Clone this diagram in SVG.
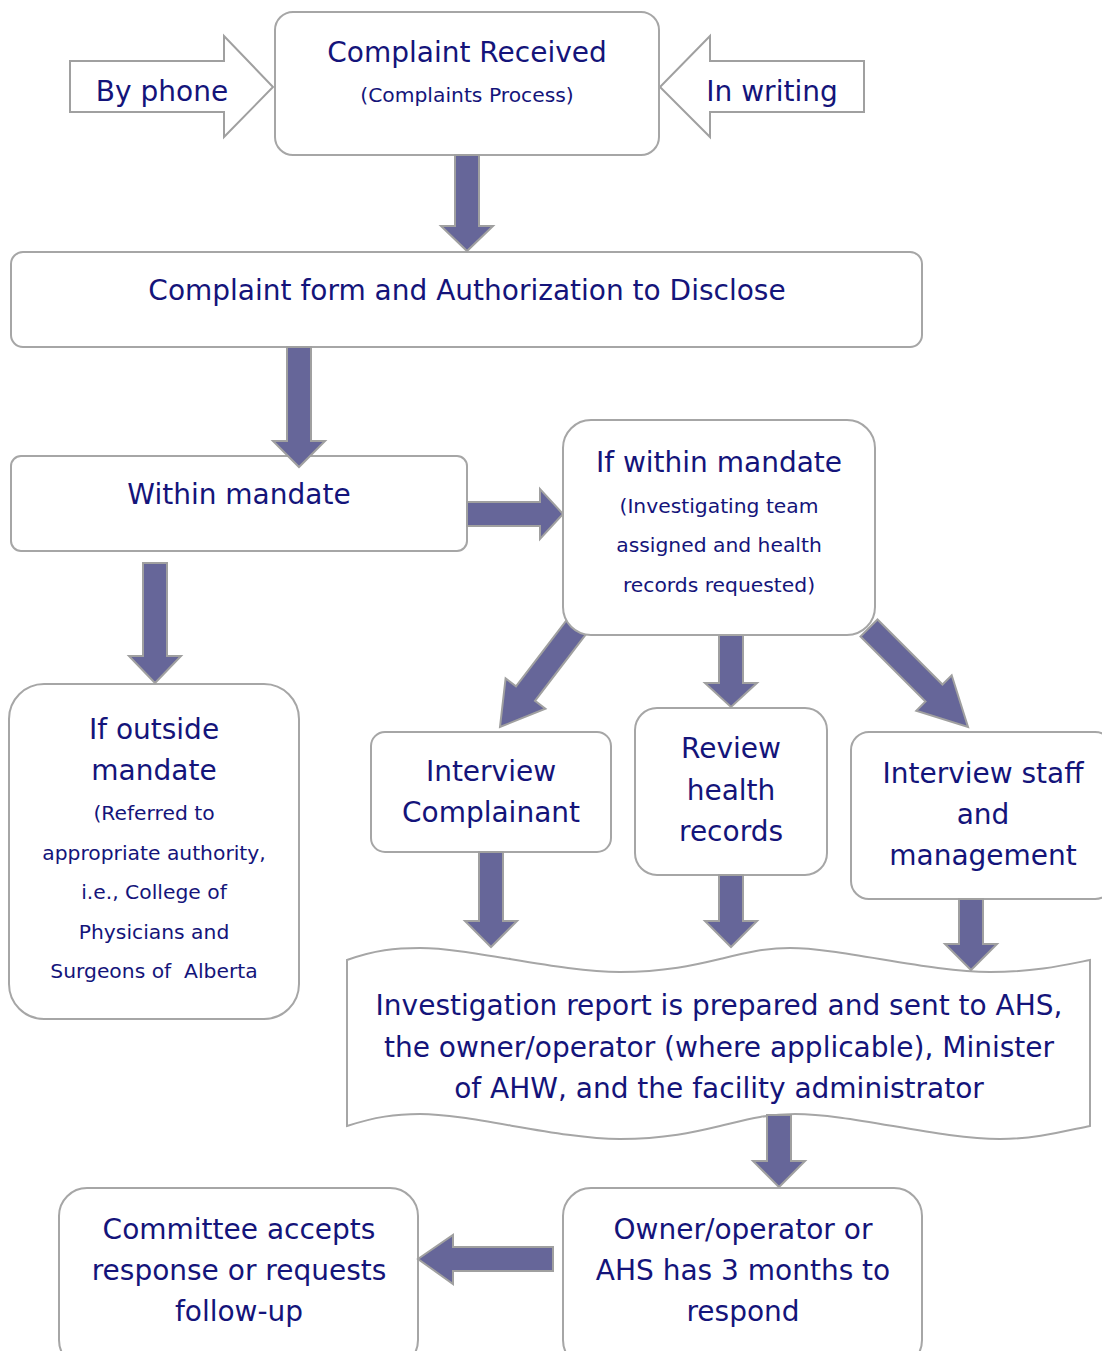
<svg xmlns="http://www.w3.org/2000/svg" width="1102" height="1351" viewBox="0 0 1102 1351">
<style>
.box{fill:#fff;stroke:#a6a6a6;stroke-width:2}
.blk{fill:#666699;stroke:#a0a0a0;stroke-width:2;stroke-linejoin:miter}
.out{fill:#fff;stroke:#a0a0a0;stroke-width:2}
text{font-family:"DejaVu Sans","Liberation Sans",sans-serif;fill:#14147a;text-anchor:middle}
.big{font-size:28px}
.sm{font-size:20.3px}
</style>
<rect width="1102" height="1351" fill="#fff"/>
<g id="by-phone"><polygon class="out" points="70,61 224,61 224,36 273,87 224,137 224,112 70,112"/><text class="big" x="162" y="101">By phone</text></g>
<g id="in-writing"><polygon class="out" points="864,61 710,61 710,36 660,87 710,137 710,112 864,112"/><text class="big" x="772" y="101">In writing</text></g>
<g id="complaint-received"><rect class="box" x="275" y="12" width="384" height="143" rx="18"/><text class="big" x="467" y="62">Complaint Received</text><text class="sm" x="467" y="102">(Complaints Process)</text></g>
<g id="complaint-form"><rect class="box" x="11" y="252" width="911" height="95" rx="12"/><text class="big" x="467" y="300">Complaint form and Authorization to Disclose</text></g>
<g id="within-mandate"><rect class="box" x="11" y="456" width="456" height="95" rx="10"/><text class="big" x="239" y="504">Within mandate</text></g>
<g id="outside-mandate"><rect class="box" x="9" y="684" width="290" height="335" rx="35"/><text class="big" x="154" y="739">If outside</text><text class="big" x="154" y="780">mandate</text><text class="sm" x="154" y="820">(Referred to</text><text class="sm" x="154" y="860">appropriate authority,</text><text class="sm" x="154" y="899">i.e., College of</text><text class="sm" x="154" y="939">Physicians and</text><text class="sm" x="154" y="978">Surgeons of&#160; Alberta</text></g>
<g id="interview-complainant"><rect class="box" x="371" y="732" width="240" height="120" rx="14"/><text class="big" x="491" y="781">Interview</text><text class="big" x="491" y="822">Complainant</text></g>
<g id="review-records"><rect class="box" x="635" y="708" width="192" height="167" rx="22"/><text class="big" x="731" y="758">Review</text><text class="big" x="731" y="800">health</text><text class="big" x="731" y="841">records</text></g>
<g id="interview-staff"><rect class="box" x="851" y="732" width="262" height="167" rx="18"/><text class="big" x="983" y="783">Interview staff</text><text class="big" x="983" y="824">and</text><text class="big" x="983" y="865">management</text></g>
<g id="investigation-report"><path class="box" d="M347,960 C375,950 395,948 420,948 C470,948 560,972 620,972 C665,972 695,965 720,959 C745,953 765,948 790,948 C840,948 930,972 990,972 C1035,972 1065,965 1090,960 L1090,1126 C1065,1131 1035,1139 1000,1139 C940,1139 850,1114 795,1114 C765,1114 745,1120 720,1126 C695,1132 665,1139 620,1139 C560,1139 470,1114 420,1114 C395,1114 375,1117 347,1126 Z"/><text class="big" x="719" y="1015">Investigation report is prepared and sent to AHS,</text><text class="big" x="719" y="1057">the owner/operator (where applicable), Minister</text><text class="big" x="719" y="1098">of AHW, and the facility administrator</text></g>
<g id="owner-operator"><rect class="box" x="563" y="1188" width="359" height="180" rx="28"/><text class="big" x="743" y="1239">Owner/operator or</text><text class="big" x="743" y="1280">AHS has 3 months to</text><text class="big" x="743" y="1321">respond</text></g>
<g id="committee"><rect class="box" x="59" y="1188" width="359" height="180" rx="28"/><text class="big" x="239" y="1239">Committee accepts</text><text class="big" x="239" y="1280">response or requests</text><text class="big" x="239" y="1321">follow-up</text></g>
<g id="connectors">
<polygon class="blk" points="455,155 479,155 479,226 493,226 467,251 441,226 455,226"/>
<polygon class="blk" points="287,347 311,347 311,441 325,441 299,467 273,441 287,441"/>
<polygon class="blk" points="467,502 540,502 540,489 563,514 540,539 540,526 467,526"/>
<polygon class="blk" points="143,563 167,563 167,656 181,656 155,683 129,656 143,656"/>
<polygon class="blk" points="567.6,618.8 516,686.3 505.6,678.4 500,727 545.4,708.8 535,700.9 586.6,633.4"/>
<polygon class="blk" points="719,635 743,635 743,683 757,683 731,707 705,683 719,683"/>
<polygon class="blk" points="860.5,636.5 925.5,701.5 916.3,710.7 968,727 951.7,675.3 942.5,684.5 877.5,619.5"/>
<polygon class="blk" points="479,852 503,852 503,921 517,921 491,947 465,921 479,921"/>
<polygon class="blk" points="719,875 743,875 743,921 757,921 731,947 705,921 719,921"/>
<polygon class="blk" points="959,899 983,899 983,944 997,944 971,970 945,944 959,944"/>
<polygon class="blk" points="767,1115 791,1115 791,1161 805,1161 779,1187 753,1161 767,1161"/>
<polygon class="blk" points="553,1247 553,1271 453,1271 453,1284 418,1259 453,1235 453,1247"/>
</g>
<g id="if-within-mandate"><rect class="box" x="563" y="420" width="312" height="215" rx="28"/><text class="big" x="719" y="472">If within mandate</text><text class="sm" x="719" y="513">(Investigating team</text><text class="sm" x="719" y="552">assigned and health</text><text class="sm" x="719" y="592">records requested)</text></g>
</svg>
